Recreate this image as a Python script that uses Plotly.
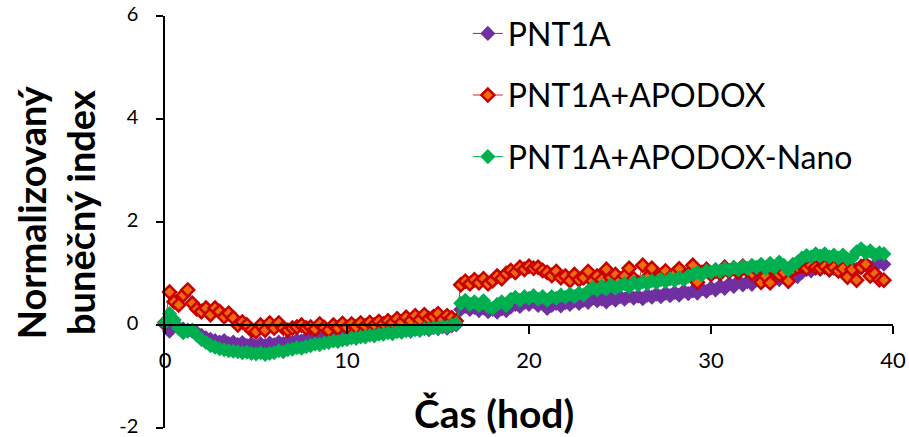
import plotly.graph_objects as go

# Sampling grid (hours), one measurement every 15 min
time_step_h = 0.25

pnt1a = [
    0.00, -0.12, 0.00, -0.05,
    -0.08, -0.10, -0.12, -0.15,
    -0.20, -0.25, -0.28, -0.30,
    -0.33, -0.30, -0.36, -0.33,
    -0.38, -0.34, -0.40, -0.36,
    -0.42, -0.36, -0.40, -0.35,
    -0.38, -0.33, -0.36, -0.31,
    -0.34, -0.29, -0.31, -0.27,
    -0.28, -0.24, -0.27, -0.23,
    -0.24, -0.21, -0.23, -0.19,
    -0.21, -0.18, -0.20, -0.16,
    -0.18, -0.15, -0.17, -0.13,
    -0.15, -0.12, -0.16, -0.11,
    -0.13, -0.09, -0.12, -0.08,
    -0.10, -0.06, -0.09, -0.05,
    -0.07, -0.04, -0.06, -0.02,
    0.00, 0.30, 0.36, 0.30,
    0.34, 0.28, 0.33, 0.26,
    0.30, 0.25, 0.31, 0.28,
    0.35, 0.40, 0.36, 0.44,
    0.40, 0.46, 0.38, 0.43,
    0.32, 0.38, 0.42, 0.37,
    0.44, 0.40, 0.47, 0.42,
    0.48, 0.44, 0.52, 0.47,
    0.50, 0.45, 0.52, 0.48,
    0.55, 0.50, 0.57, 0.52,
    0.56, 0.51, 0.58, 0.54,
    0.60, 0.55, 0.62, 0.57,
    0.63, 0.58, 0.66, 0.61,
    0.66, 0.62, 0.70, 0.65,
    0.72, 0.68, 0.76, 0.71,
    0.80, 0.75, 0.85, 0.78,
    0.84, 0.79, 0.88, 0.82,
    0.90, 0.85, 0.95, 0.88,
    0.95, 0.90, 1.00, 0.94,
    1.02, 1.08, 1.05, 1.10,
    1.08, 1.12, 1.06, 1.10,
    1.05, 1.10, 1.07, 1.12,
    1.08, 1.15, 1.18, 1.12,
    1.16, 1.22, 1.18,
]

pnt1a_apodox = [
    0.05, 0.64, 0.45, 0.39,
    0.58, 0.68, 0.42, 0.31,
    0.26, 0.33, 0.20, 0.33,
    0.26, 0.16, 0.23, 0.14,
    0.00, 0.06, 0.00, -0.10,
    -0.13, 0.00, -0.10, 0.04,
    -0.06, 0.04, -0.06, -0.10,
    -0.06, -0.04, 0.00, -0.06,
    -0.04, -0.08, 0.02, -0.05,
    -0.10, 0.00, -0.06, 0.03,
    -0.05, 0.02, -0.04, 0.04,
    -0.02, 0.05, 0.00, 0.07,
    0.02, 0.08, 0.04, 0.12,
    0.05, 0.15, 0.08, 0.18,
    0.10, 0.20, 0.12, 0.16,
    0.22, 0.10, 0.18, 0.14,
    0.08, 0.78, 0.85, 0.80,
    0.88, 0.82, 0.90, 0.80,
    0.86, 0.95, 0.90, 1.00,
    1.06, 1.02, 1.12, 1.08,
    1.14, 1.10, 1.12, 1.06,
    1.02, 0.96, 1.04, 0.92,
    0.95, 0.86, 0.98, 0.88,
    0.92, 1.04, 0.85, 0.95,
    0.88, 1.08, 0.92, 0.98,
    0.86, 0.95, 1.10, 0.90,
    0.82, 1.16, 0.92, 1.10,
    0.88, 0.96, 1.05, 0.92,
    1.00, 1.09, 0.90, 0.98,
    1.16, 0.83, 1.02, 1.08,
    0.98, 1.05, 1.00, 1.12,
    1.04, 1.10, 1.02, 1.14,
    1.06, 1.00, 1.08, 0.83,
    0.95, 0.82, 1.05, 0.98,
    1.02, 0.85, 1.08, 1.12,
    1.14, 1.10, 1.16, 1.12,
    1.10, 1.14, 1.08, 1.12,
    1.05, 1.10, 0.93, 1.08,
    0.87, 1.12, 1.18, 0.95,
    1.00, 0.88, 0.87,
]

pnt1a_apodox_nano = [
    0.05, 0.22, 0.10, -0.06,
    -0.15, -0.12, -0.10, -0.20,
    -0.28, -0.34, -0.40, -0.43,
    -0.46, -0.48, -0.50, -0.51,
    -0.52, -0.54, -0.53, -0.55,
    -0.56, -0.54, -0.57, -0.55,
    -0.54, -0.50, -0.52, -0.48,
    -0.47, -0.44, -0.45, -0.42,
    -0.40, -0.37, -0.38, -0.35,
    -0.34, -0.31, -0.32, -0.29,
    -0.28, -0.25, -0.26, -0.23,
    -0.23, -0.20, -0.21, -0.18,
    -0.18, -0.15, -0.17, -0.13,
    -0.14, -0.11, -0.12, -0.09,
    -0.10, -0.07, -0.08, -0.05,
    -0.06, -0.03, -0.04, 0.00,
    0.02, 0.42, 0.48, 0.40,
    0.45, 0.38, 0.47, 0.36,
    0.32, 0.40, 0.45, 0.38,
    0.50, 0.54, 0.48, 0.55,
    0.52, 0.57, 0.50, 0.55,
    0.48, 0.55, 0.52, 0.58,
    0.54, 0.60, 0.55, 0.62,
    0.58, 0.66, 0.72, 0.68,
    0.75, 0.70, 0.78, 0.72,
    0.76, 0.80, 0.74, 0.82,
    0.78, 0.84, 0.80, 0.86,
    0.82, 0.88, 0.84, 0.90,
    0.86, 0.92, 0.88, 0.95,
    0.98, 1.02, 0.97, 1.05,
    1.02, 1.08, 1.04, 1.10,
    1.06, 1.12, 1.08, 1.14,
    1.10, 1.16, 1.12, 1.18,
    1.10, 1.20, 1.12, 1.22,
    1.16, 1.07, 1.18, 1.22,
    1.30, 1.35, 1.32, 1.38,
    1.34, 1.38, 1.32, 1.36,
    1.30, 1.36, 1.28, 1.30,
    1.42, 1.48, 1.40, 1.44,
    1.36, 1.40, 1.38,
]

series_names = ["PNT1A", "PNT1A+APODOX", "PNT1A+APODOX-Nano"]
x_ticks = [0, 10, 20, 30, 40]
y_ticks = [-2, 0, 2, 4, 6]

FONT = "Lato, Carlito, sans-serif"

fig = go.Figure()

styles = [
    dict(line="#7030A0", fill="#7030A0", border="#7030A0", bw=1.5),
    dict(line="#E02020", fill="#EE6A0C", border="#C80000", bw=2.5),
    dict(line="#00B050", fill="#00B050", border="#00B050", bw=1.5),
]
for i, (name, ys) in enumerate(zip(series_names, [pnt1a, pnt1a_apodox, pnt1a_apodox_nano])):
    st = styles[i]
    t = [round(k * time_step_h, 2) for k in range(len(ys))]
    fig.add_trace(go.Scatter(
        x=t, y=ys, name=name, mode="lines+markers",
        legendgroup=f"g{i}",
        line=dict(color=st["line"], width=1),
        marker=dict(symbol="diamond", size=10, color=st["fill"],
                    line=dict(color=st["border"], width=st["bw"])),
        cliponaxis=False,
    ))

fig.update_layout(
    width=909, height=437,
    margin=dict(l=165, r=16, t=16, b=9, autoexpand=False),
    plot_bgcolor="white", paper_bgcolor="white",
    font=dict(family=FONT, color="black"),
    showlegend=True,
    legend=dict(x=0.416, y=1.024, xanchor="left", yanchor="top",
                font=dict(size=32, family=FONT), tracegroupgap=17,
                bgcolor="rgba(0,0,0,0)", itemwidth=30),
    xaxis=dict(range=[0, 40], tickvals=x_ticks, ticktext=[str(v) for v in x_ticks],
               anchor="free", position=0.25, showline=True, linecolor="black",
               linewidth=1.5, ticks="outside", ticklen=8, tickwidth=1.5,
               tickcolor="black", showgrid=False, zeroline=False,
               ticklabelstandoff=8, ticklabeloverflow="allow", automargin=False,
               tickfont=dict(size=22, family=FONT)),
    yaxis=dict(range=[-2, 6], tickvals=y_ticks, ticktext=[str(v) for v in y_ticks],
               showline=True, linecolor="black", linewidth=1.5, ticks="outside",
               ticklen=7, tickwidth=1.5, tickcolor="black", showgrid=False,
               zeroline=False, ticklabelstandoff=14, ticklabelshift=-2,
               ticklabeloverflow="allow",
               automargin=False, tickfont=dict(size=20, family=FONT)),
    annotations=[
        dict(text="<b>Čas (hod)</b>", xref="paper", yref="paper",
             x=0.452, y=0.036, xanchor="center", yanchor="middle",
             showarrow=False, font=dict(size=39, family=FONT)),
        dict(text="<b>Normalizovaný<br>buněčný index</b>", xref="paper", yref="paper",
             x=-0.151, y=0.524, xanchor="center", yanchor="middle", textangle=-90,
             showarrow=False, font=dict(size=38, family=FONT)),
    ],
)

fig.write_html("out.html")
